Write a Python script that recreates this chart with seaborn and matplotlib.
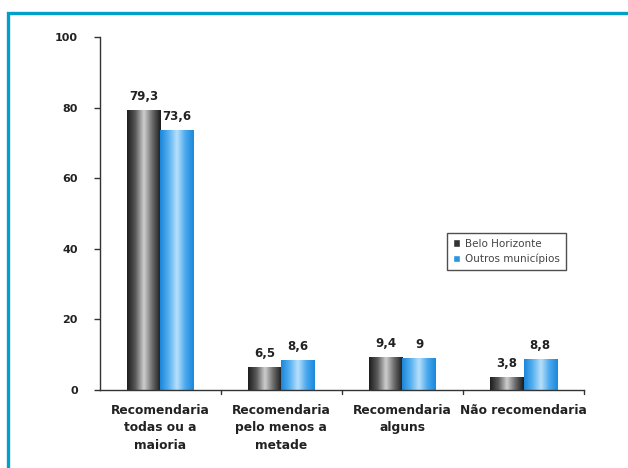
import numpy as np
import pandas as pd
import matplotlib
matplotlib.use("Agg")
import matplotlib.pyplot as plt
from matplotlib.patches import Rectangle
from matplotlib.colors import LinearSegmentedColormap
import seaborn as sns

categories = ["Recomendaria\ntodas ou a\nmaioria",
              "Recomendaria\npelo menos a\nmetade",
              "Recomendaria\nalguns",
              "Não recomendaria"]
series_names = ["Belo Horizonte", "Outros municípios"]
belo_horizonte = [79.3, 6.5, 9.4, 3.8]
outros_municipios = [73.6, 8.6, 9.0, 8.8]
y_ticks = [0, 20, 40, 60, 80, 100]

df = pd.DataFrame({
    "categoria": categories * 2,
    "grupo": [series_names[0]] * 4 + [series_names[1]] * 4,
    "valor": belo_horizonte + outros_municipios,
})

sns.set_theme(style="white")
plt.rcParams["font.family"] = ["DejaVu Sans"]

base_colors = ["#333333", "#2b95e0"]

fig = plt.figure(figsize=(6.28, 4.68), dpi=100)
ax = fig.add_axes([0.159, 0.1667, 0.771, 0.7543])

sns.barplot(data=df, x="categoria", y="valor", hue="grupo",
            hue_order=series_names, palette=base_colors,
            width=0.55, gap=0, ax=ax, saturation=1, legend=True)

ax.set_ylim(0, 100)
xlim = (-0.5, 3.5)
ax.set_xlim(*xlim)

# cylindrical shading on each bar
grad_dark = LinearSegmentedColormap.from_list(
    "dk", ["#1c1c1c", "#5a5a5a", "#cfcfcf", "#6a6a6a", "#1a1a1a"])
grad_blue = LinearSegmentedColormap.from_list(
    "bl", ["#1a86d8", "#55aff0", "#b8e0fb", "#4aa8ee", "#1a88da"])
n = len(categories)
bars = [p for p in ax.patches if isinstance(p, Rectangle)][: 2 * n]
g = np.linspace(0, 1, 256).reshape(1, -1)
for i, bar in enumerate(bars):
    x, y = bar.get_x(), bar.get_y()
    w, h = bar.get_width(), bar.get_height()
    cmap = grad_dark if i < n else grad_blue
    im = ax.imshow(g, cmap=cmap, extent=[x, x + w, y, y + h],
                   aspect="auto", zorder=bar.get_zorder(), interpolation="bicubic")
    im.set_clip_path(bar)
    bar.set_facecolor("none")
    bar.set_edgecolor("none")
ax.set_xlim(*xlim)
ax.set_ylim(0, 100)
ax.set_aspect("auto")

# value labels
all_vals = belo_horizonte + outros_municipios
for i, bar in enumerate(bars):
    v = all_vals[i]
    txt = f"{v:g}".replace(".", ",")
    ax.text(bar.get_x() + bar.get_width() / 2, bar.get_height() + 2.0, txt,
            ha="center", va="bottom", fontsize=8.5, fontweight="bold", color="#222222")

# axes styling
for side in ["top", "right"]:
    ax.spines[side].set_visible(False)
for side in ["left", "bottom"]:
    ax.spines[side].set_color("#333333")
    ax.spines[side].set_linewidth(1.0)

ax.set_yticks(y_ticks)
ax.set_yticklabels([str(t) for t in y_ticks], fontsize=8, fontweight="bold", color="#222222")
ax.tick_params(axis="y", direction="out", length=4, width=1, color="#333333", pad=12, left=True)

ax.set_xticks(range(n))
ax.set_xticklabels(categories, fontsize=8.8, fontweight="bold", color="#222222", linespacing=1.45)
ax.tick_params(axis="x", length=0, pad=10)
# separators between categories on the x axis
for b in np.arange(0.5, n + 0.5, 1.0):
    ax.plot([b, b], [0, -1.2], color="#333333", lw=1, clip_on=False, zorder=5)

ax.set_xlabel("")
ax.set_ylabel("")

leg = ax.legend(loc="upper left", bbox_to_anchor=(0.717, 0.445), frameon=True,
                fancybox=False, edgecolor="#222222", fontsize=7.5,
                handlelength=0.7, handleheight=0.7, handletextpad=0.5,
                borderpad=0.55, labelspacing=0.5, borderaxespad=0)
leg.get_frame().set_linewidth(1.0)
for t in leg.get_texts():
    t.set_color("#444444")

# outer blue frame
frame = Rectangle((8 / 628, -0.2), 1.2, (1 - 13 / 468) + 0.2,
                  transform=fig.transFigure, fill=False,
                  edgecolor="#00a0c8", linewidth=2.4, clip_on=False)
fig.patches.append(frame)

fig.savefig("out.png", dpi=100)
